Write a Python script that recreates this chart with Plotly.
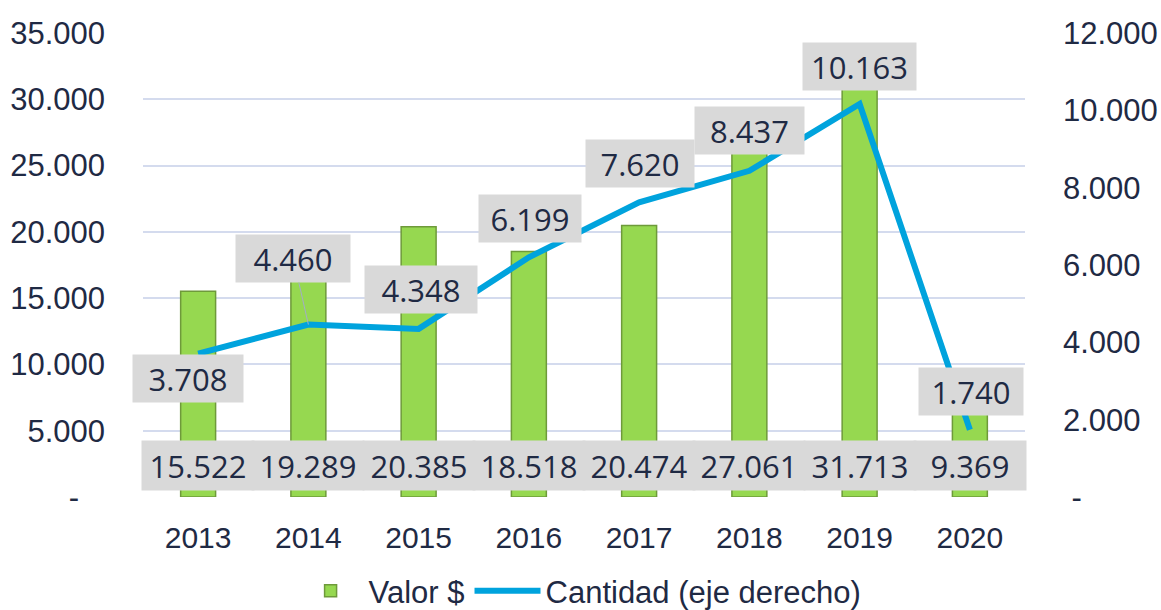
import plotly.graph_objects as go

years = ["2013", "2014", "2015", "2016", "2017", "2018", "2019", "2020"]
valor = [15522, 19289, 20385, 18518, 20474, 27061, 31713, 9369]
cantidad = [3708, 4460, 4348, 6199, 7620, 8437, 10163, 1740]
left_ticks = [0, 5000, 10000, 15000, 20000, 25000, 30000, 35000]
left_text = ["-\u00a0\u00a0\u00a0", "5.000", "10.000", "15.000", "20.000", "25.000", "30.000", "35.000"]
right_ticks = [0, 2000, 4000, 6000, 8000, 10000, 12000]
right_text = ["\u00a0-", "2.000", "4.000", "6.000", "8.000", "10.000", "12.000"]
# label placement (pixel offsets from the data point) and box widths for the Cantidad labels
lbl_dy = [-25, 66, 39, 39, 39, 40, 38, 38]
lbl_dx = [-10, -15, 2, 1, 1, 0, 0, 1]
lbl_w = [110, 114, 112, 102, 108, 109, 113, 104]
leader = [False, True, False, False, False, False, False, False]


def fmt(v):
    return f"{v:,}".replace(",", ".")


TXT = "#1F2A44"
LBL_FONT = dict(family="Open Sans", size=31, color=TXT)
fig = go.Figure()
fig.add_trace(go.Bar(
    x=years, y=valor, name="Valor $", width=0.317,
    marker=dict(color="#96D850", line=dict(color="#6E9A3A", width=1.5)),
    yaxis="y",
))
fig.add_trace(go.Scatter(
    x=years, y=cantidad, name="Cantidad (eje derecho)", mode="lines",
    line=dict(color="#00A3DD", width=6),
    yaxis="y2",
))

annotations = []
for i, v in enumerate(valor):
    annotations.append(dict(
        x=i, y=0, xref="x", yref="y", text=fmt(v), showarrow=False,
        yanchor="middle", yshift=32, width=110, height=47,
        bgcolor="#D9D9D9", font=LBL_FONT,
    ))
for i, v in enumerate(cantidad):
    annotations.append(dict(
        x=i, y=v, xref="x", yref="y2", text=fmt(v),
        showarrow=True, arrowhead=0, arrowwidth=1,
        arrowcolor="#A3ADC8" if leader[i] else "rgba(0,0,0,0)",
        ax=lbl_dx[i], ay=-lbl_dy[i],
        height=47, width=lbl_w[i], borderpad=0,
        bgcolor="#D9D9D9", font=LBL_FONT,
    ))

fig.update_layout(
    width=1161, height=610,
    margin=dict(l=143, r=136, t=33, b=113, autoexpand=False),
    paper_bgcolor="white", plot_bgcolor="white",
    font=dict(family="Liberation Sans, Arial", color=TXT, size=31),
    bargap=0.68,
    showlegend=True,
    legend=dict(orientation="h", x=0.495, xanchor="center", y=-0.203, yanchor="middle",
                font=dict(size=31, color=TXT), itemwidth=66, tracegroupgap=0),
    xaxis=dict(type="category", range=[-0.5, len(years) - 0.5], showgrid=False,
               showline=False, ticks="", tickfont=dict(size=30, color=TXT),
               ticklabelstandoff=20, automargin=False),
    yaxis=dict(range=[0, 35000], tickvals=left_ticks, ticktext=left_text,
               showgrid=True, gridcolor="#D4DBEE", gridwidth=2, zeroline=False,
               showline=False, ticklabelstandoff=37, tickfont=dict(size=31, color=TXT),
               automargin=False),
    yaxis2=dict(range=[0, 12000], tickvals=right_ticks, ticktext=right_text,
                overlaying="y", side="right", showgrid=False, zeroline=False,
                showline=False, ticklabelstandoff=37, tickfont=dict(size=31, color=TXT),
                automargin=False),
    annotations=annotations,
)

fig.write_html(
    "out.html",
    config={"displayModeBar": False},
    post_script="document.body.style.margin='0';document.body.style.overflow='hidden';",
)
